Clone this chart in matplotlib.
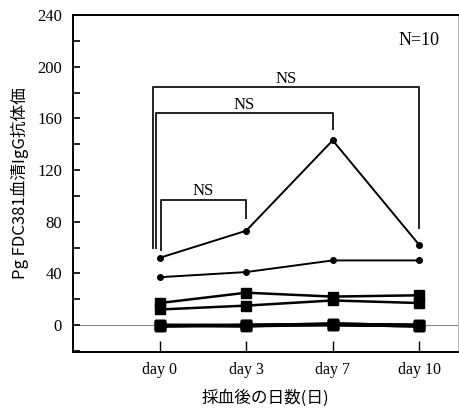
import matplotlib
matplotlib.use("Agg")
import matplotlib.pyplot as plt
from matplotlib.ticker import MultipleLocator

plt.rcParams["font.family"] = ["Liberation Serif", "Noto Sans CJK JP"]

days = ["day 0", "day 3", "day 7", "day 10"]

# 各被験者の抗体価 (N=10)
dot_series = [
    [52, 73, 143, 62],
    [37, 41, 50, 50],
]
square_series = [
    [17, 25, 22, 23],
    [12, 15, 19, 17],
    [0, 0, 1, 0],
    [-1, -1, 0, -1],
    [0, 0, 1, 0],
    [-1, 0, 0, -1],
    [0, -1, 1, 0],
    [-1, 0, 0, -1],
]

# 有意差ブラケット (左端, 右端, 高さ, 左脚下端, 右脚下端)
bracket_left = [0.01, -0.04, -0.08]
bracket_right = [1, 2, 3]
bracket_top = [97, 164, 184]
bracket_left_low = [58, 60, 60]
bracket_right_low = [83, 152, 75]
bracket_text = ["NS", "NS", "NS"]

fig = plt.figure(figsize=(4.6, 4.08), dpi=100)
ax = fig.add_axes([0.159, 0.137, 0.837, 0.826])

x = list(range(len(days)))
ax.axhline(0, color="#888888", lw=0.8, zorder=1)

for ys in square_series:
    ax.plot(x, ys, color="black", lw=1.8, marker="s", ms=6.5, zorder=3)
for ys in dot_series:
    ax.plot(x, ys, color="black", lw=1.4, marker="o", ms=4, zorder=3)

for l, r, t, ll, rl, s in zip(bracket_left, bracket_right, bracket_top,
                              bracket_left_low, bracket_right_low, bracket_text):
    ax.plot([l, l, r, r], [ll, t, t, rl], color="#222222", lw=1.4)
    ax.text((l + r) / 2, t + 0.5, s, ha="center", va="bottom", fontsize=12)

ax.text(3.0, 220, "N=10", ha="center", va="center", fontsize=13)

ax.set_xlim(-1.0, 3.45)
ax.set_ylim(-21, 240)
ax.set_xticks(x)
ax.set_xticklabels(days, fontsize=11.5)
ax.yaxis.set_major_locator(MultipleLocator(40))
ax.yaxis.set_minor_locator(MultipleLocator(20))
ax.tick_params(axis="y", direction="in", length=5, width=1.2, labelsize=12, pad=8)
ax.tick_params(axis="y", which="minor", direction="in", length=5, width=1.2)
ax.tick_params(axis="x", direction="in", length=8, width=1.0, pad=7)
ax.tick_params(top=False, right=False)

for sp in ["left", "top", "bottom"]:
    ax.spines[sp].set_linewidth(1.4)
ax.spines["right"].set_linewidth(0.6)
ax.spines["right"].set_color("#aaaaaa")

ax.set_ylabel("Pg FDC381血清IgG抗体価", fontsize=12,
              family=["Noto Sans CJK JP", "DejaVu Sans"], labelpad=6)
ax.set_xlabel("採血後の日数(日)", fontsize=12,
              family=["Noto Sans CJK JP", "DejaVu Sans"], labelpad=8)

fig.savefig("out.png", dpi=100)
